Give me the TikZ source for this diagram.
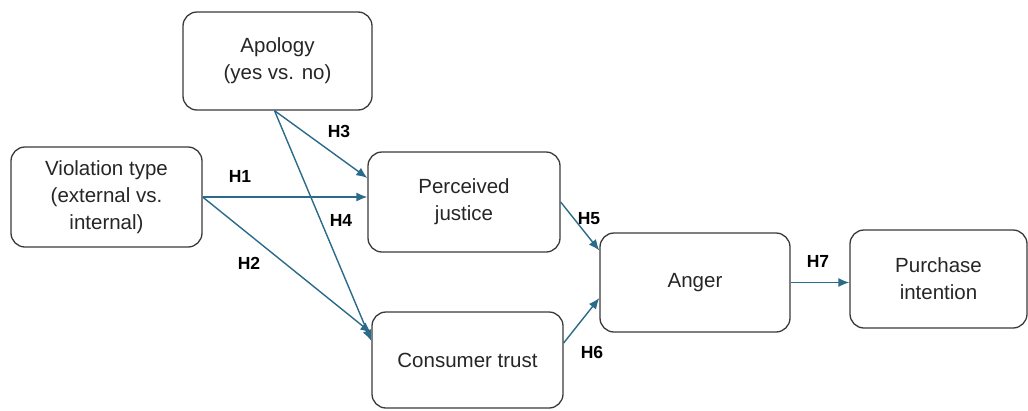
\documentclass[tikz,border=0pt]{standalone}
\usepackage{fontspec}
\setmainfont{Liberation Sans}
\usetikzlibrary{arrows.meta,calc}
\definecolor{boxline}{HTML}{3A3A3A}
\definecolor{pathblue}{HTML}{2A6A8A}
\definecolor{txt}{HTML}{262626}
\begin{document}
\begin{tikzpicture}[x=1pt,y=-1pt,
  construct/.style={draw=boxline, line width=1.3pt, rounded corners=14pt, fill=white,
    align=center, text=txt, inner sep=0pt, font=\fontsize{20.5}{27}\selectfont},
  path arrow/.style={draw=pathblue, line width=1.4pt, -{Latex[length=11pt,width=9pt]}},
  hyp/.style={text=black, font=\fontsize{17.5}{20}\selectfont\bfseries, inner sep=0pt}]
\useasboundingbox (0,0) rectangle (1028,410);

% constructs
\node[construct, minimum width=189pt, minimum height=98pt] (apology) at (277.5,61) {Apology\\(yes vs. no)};
\node[construct, minimum width=191pt, minimum height=100pt] (viol) at (106.5,197) {Violation type\\(external vs.\\internal)};
\node[construct, minimum width=192pt, minimum height=100pt] (pj) at (464,202) {Perceived\\justice};
\node[construct, minimum width=191pt, minimum height=96pt] (ct) at (467.5,360) {Consumer trust};
\node[construct, minimum width=190pt, minimum height=99pt] (anger) at (695,282.5) {Anger};
\node[construct, minimum width=177pt, minimum height=98pt] (pi) at (938.5,279) {Purchase\\intention};

% hypothesised paths
\draw[path arrow] (viol.east) -- (viol.east -| pj.west);
\draw[path arrow] (viol.east) -- ([yshift=27pt]ct.west);
\draw[path arrow] ([xshift=-3pt]apology.south) -- ([yshift=24pt]pj.west);
\draw[path arrow] ([xshift=-3pt]apology.south) -- ([yshift=19pt]ct.west);
\draw[path arrow] (pj.east) -- ([yshift=32pt]anger.west);
\draw[path arrow] ([yshift=17pt]ct.east) -- ([yshift=-15.5pt]anger.west);
\draw[path arrow] (anger.east) -- (anger.east -| pi.west);

% path labels
\node[hyp] (h1) at (240,176) {H1};
\node[hyp] (h2) at (249,263) {H2};
\node[hyp] (h3) at (339,131) {H3};
\node[hyp] (h4) at (341,220) {H4};
\node[hyp] (h5) at (589,219) {H5};
\node[hyp] (h6) at (592,352) {H6};
\node[hyp] (h7) at (818,261) {H7};
\end{tikzpicture}
\end{document}
